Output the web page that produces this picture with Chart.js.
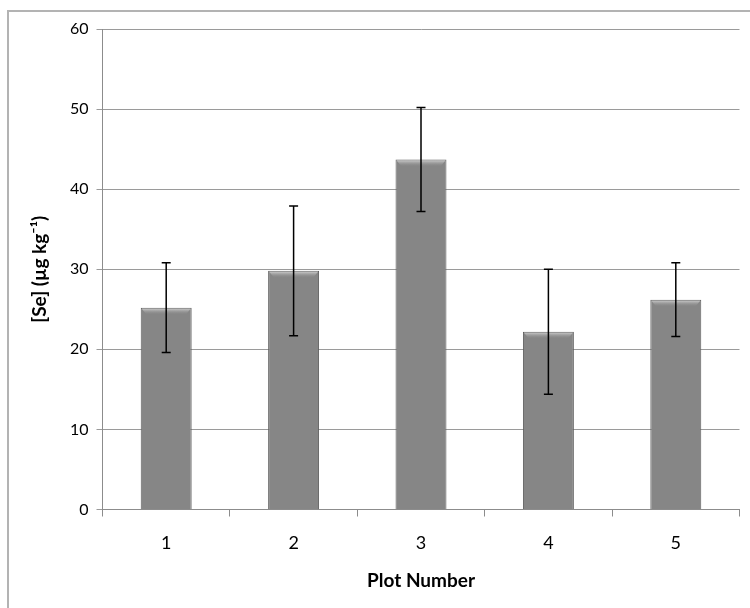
<!DOCTYPE html>
<html lang="en">

<head>
    <meta charset="UTF-8">
    <title>Se by plot</title>
    <script src="https://cdn.jsdelivr.net/npm/chart.js"></script>
    <style>
        body { margin: 0; background: #fff; }
        #wrap { position: relative; width: 750px; height: 608px; overflow: hidden; }
        #frame { position: absolute; left: 7px; top: 10px; width: 780px; height: 640px; border: 2px solid #b3b3b3; }
        #seChart { position: absolute; left: 0; top: 0; }
    </style>
</head>

<body>
    <div id="wrap">
        <div id="frame"></div>
        <canvas id="seChart" width="750" height="608"></canvas>
    </div>

    <script>
        // values
        const plots = ['1', '2', '3', '4', '5'];
        const seMean = [25.2, 29.8, 43.7, 22.2, 26.2];
        const seErr = [5.6, 8.1, 6.5, 7.8, 4.6];
        const yTicks = [0, 10, 20, 30, 40, 50, 60];

        const fontFamily = 'Lato, "Open Sans", sans-serif';

        // error bars + bevel highlight on top of each bar
        const errorBars = {
            id: 'errorBars',
            afterDatasetsDraw(chart) {
                const ctx = chart.ctx;
                const yScale = chart.scales.y;
                const bars = chart.getDatasetMeta(0).data;
                bars.forEach((bar, i) => {
                    const half = bar.width / 2;
                    // light bevel at the top of the bar
                    const g = ctx.createLinearGradient(0, bar.y, 0, bar.y + 7);
                    g.addColorStop(0, 'rgba(225,225,225,0.95)');
                    g.addColorStop(1, 'rgba(140,140,140,0)');
                    ctx.save();
                    ctx.fillStyle = g;
                    ctx.beginPath();
                    ctx.moveTo(bar.x - half + 1, bar.y + 1);
                    ctx.lineTo(bar.x + half - 1, bar.y + 1);
                    ctx.lineTo(bar.x + half - 6, bar.y + 7);
                    ctx.lineTo(bar.x - half + 6, bar.y + 7);
                    ctx.closePath();
                    ctx.fill();
                    ctx.restore();

                    const top = yScale.getPixelForValue(seMean[i] + seErr[i]);
                    const bottom = yScale.getPixelForValue(seMean[i] - seErr[i]);
                    ctx.save();
                    ctx.strokeStyle = '#000';
                    ctx.lineWidth = 1.5;
                    ctx.beginPath();
                    ctx.moveTo(bar.x, top);
                    ctx.lineTo(bar.x, bottom);
                    ctx.moveTo(bar.x - 4.5, top);
                    ctx.lineTo(bar.x + 4.5, top);
                    ctx.moveTo(bar.x - 4.5, bottom);
                    ctx.lineTo(bar.x + 4.5, bottom);
                    ctx.stroke();
                    ctx.restore();
                });
            }
        };

        function barFill(context) {
            const bar = context.element;
            if (!bar || bar.x === undefined) return '#868686';
            const half = bar.width / 2;
            const g = context.chart.ctx.createLinearGradient(bar.x - half, 0, bar.x + half, 0);
            g.addColorStop(0, '#6c6c6c');
            g.addColorStop(0.1, '#838383');
            g.addColorStop(0.5, '#8a8a8a');
            g.addColorStop(0.9, '#838383');
            g.addColorStop(1, '#666666');
            return g;
        }

        const ctx = document.getElementById('seChart').getContext('2d');
        const seChart = new Chart(ctx, {
            type: 'bar',
            data: {
                labels: plots,
                datasets: [{
                    label: '[Se]',
                    data: seMean,
                    backgroundColor: barFill,
                    borderColor: '#5e5e5e',
                    borderWidth: 1,
                    barPercentage: 0.4,
                    categoryPercentage: 1
                }]
            },
            options: {
                responsive: false,
                animation: false,
                layout: {
                    padding: { left: 0, top: 29, right: 10.5, bottom: 0 }
                },
                plugins: {
                    legend: { display: false },
                    tooltip: { enabled: false }
                },
                scales: {
                    x: {
                        afterFit: (scale) => { scale.height = 98.5; },
                        grid: {
                            drawOnChartArea: false,
                            drawTicks: true,
                            tickLength: 7,
                            color: '#8c8c8c'
                        },
                        border: { color: '#8c8c8c', width: 1 },
                        ticks: {
                            color: '#000',
                            padding: 16,
                            font: { family: fontFamily, size: 18 }
                        },
                        title: {
                            display: true,
                            text: 'Plot Number',
                            color: '#000',
                            font: { family: fontFamily, size: 19, weight: 'bold' },
                            padding: { top: 0, bottom: 15.5 }
                        }
                    },
                    y: {
                        min: 0,
                        max: 60,
                        afterFit: (scale) => { scale.width = 102.5; },
                        afterBuildTicks: (scale) => {
                            scale.ticks = yTicks.map(v => ({ value: v }));
                        },
                        grid: {
                            color: '#9a9a9a',
                            tickLength: 6
                        },
                        border: { color: '#8c8c8c', width: 1 },
                        ticks: {
                            color: '#000',
                            padding: 8,
                            font: { family: fontFamily, size: 16 }
                        },
                        title: {
                            display: true,
                            text: '[Se] (µg kg⁻¹)',
                            color: '#000',
                            font: { family: fontFamily, size: 19, weight: 'bold' },
                            padding: { top: 28.5, bottom: 0 }
                        }
                    }
                }
            },
            plugins: [errorBars]
        });
    </script>
</body>

</html>
